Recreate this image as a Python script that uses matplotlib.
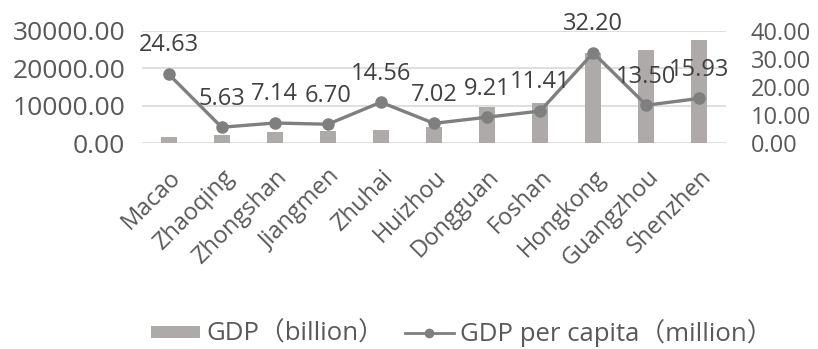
import matplotlib.pyplot as plt
import numpy as np

plt.rcParams['font.family'] = ['Open Sans', 'Noto Sans CJK SC', 'DejaVu Sans']

cities = ['Macao', 'Zhaoqing', 'Zhongshan', 'Jiangmen', 'Zhuhai', 'Huizhou',
          'Dongguan', 'Foshan', 'Hongkong', 'Guangzhou', 'Shenzhen']
gdp = [1600, 2200, 3000, 3200, 3500, 4200, 9600, 10800, 24000, 24900, 27600]
gdp_per_capita = [24.63, 5.63, 7.14, 6.70, 14.56, 7.02, 9.21, 11.41, 32.20, 13.50, 15.93]

txt = '#595959'
bar_c = '#aeaaaa'
line_c = '#7f7f7f'

fig = plt.figure(figsize=(8.18, 3.49), dpi=100)
ax = fig.add_axes([142 / 818, 1 - 143 / 349, 584 / 818, 112 / 349])
ax2 = ax.twinx()

x = np.arange(len(cities))
ax.bar(x, gdp, width=0.3, color=bar_c, label='GDP（billion）', zorder=2)
ax.set_ylim(0, 30000)
ax.set_yticks([0, 10000, 20000, 30000])
ax.set_yticklabels(['%.2f' % v for v in [0, 10000, 20000, 30000]])
ax.set_xlim(-0.5, len(cities) - 0.5)
ax.set_xticks(x)
ax.set_xticklabels(cities, rotation=45, ha='right', rotation_mode='anchor')
ax.grid(axis='y', color='#d9d9d9', linewidth=1.2, zorder=0)

ax2.plot(x, gdp_per_capita, color=line_c, linewidth=2.4, marker='o', markersize=8,
         label='GDP per capita（million）', zorder=3)
ax2.set_ylim(0, 40)
ax2.set_yticks([0, 10, 20, 30, 40])
ax2.set_yticklabels(['%.2f' % v for v in [0, 10, 20, 30, 40]])
for xi, v in zip(x, gdp_per_capita):
    ax2.annotate('%.2f' % v, (xi, v), xytext=(0, 12), textcoords='offset points',
                 ha='center', va='bottom', fontsize=17, color='#404040')

for a in (ax, ax2):
    for s in a.spines.values():
        s.set_visible(False)
    a.tick_params(length=0, colors=txt)
ax.tick_params(axis='x', labelsize=17, pad=16)
ax.tick_params(axis='y', labelsize=19, pad=12)
ax2.tick_params(axis='y', labelsize=17, pad=18)

h1, l1 = ax.get_legend_handles_labels()
h2, l2 = ax2.get_legend_handles_labels()
leg = fig.legend(h1 + h2, l1 + l2, loc='center', bbox_to_anchor=(462 / 818, 1 - 333 / 349),
                 ncol=2, frameon=False, fontsize=18.5, handlelength=1.9, handleheight=0.35,
                 columnspacing=0.8, handletextpad=0.25, markerscale=0.75)
leg.legend_handles[1].set_linewidth(2)
for t in leg.get_texts():
    t.set_color(txt)

fig.savefig('out.png', dpi=100)
